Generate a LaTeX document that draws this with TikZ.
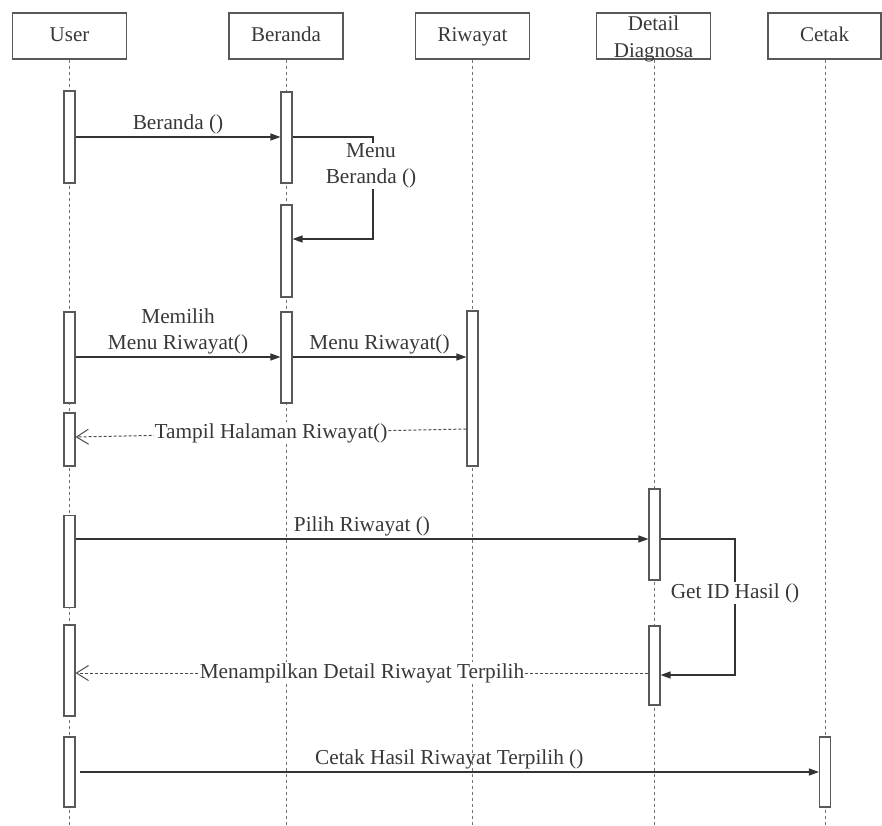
\documentclass[tikz,border=0pt]{standalone}
\usepackage{fontspec}
\setmainfont{Liberation Serif}
\newfontfamily\diagfont{Liberation Serif}
\usetikzlibrary{arrows.meta}
\begin{document}
\begin{tikzpicture}[x=1pt,y=-1pt,
  every node/.style={font=\diagfont\fontsize{21.3}{26}\selectfont, text=black!78},
  header/.style={draw=black!65, line width=1.1pt, fill=white, minimum width=114pt,
                 minimum height=46pt, inner sep=0pt, align=center, text height=14pt, text depth=4pt,
                 font=\diagfont\fontsize{21}{27}\selectfont},
  lifeline/.style={draw=black!55, line width=0.9pt, dash pattern=on 3pt off 3pt},
  actbar/.style={draw=black!65, line width=1.1pt, fill=white, minimum width=11pt, inner sep=0pt},
  msg/.style={draw=black!80, line width=1.2pt, -{Triangle[length=10pt,width=7pt]}},
  selfmsg/.style={draw=black!80, line width=1.2pt, -{Triangle[length=10pt,width=7pt]}},
  reply/.style={draw=black!70, line width=1pt, dash pattern=on 3pt off 2pt,
                -{Straight Barb[length=12pt,width=15pt,line width=1pt]}},
  lbl/.style={inner sep=2pt},
  onlbl/.style={fill=white, inner sep=1pt}
]
\fill[white] (0,0) rectangle (882,825);
\useasboundingbox (0,0) rectangle (882,825);

% lifeline heads
\node[header] (hU) at (69.5,36) {User};
\node[header] (hB) at (286,36) {Beranda};
\node[header] (hR) at (472.5,36) {Riwayat};
\node[header] (hD) at (653.5,36) {};
\node[align=center, font=\diagfont\fontsize{21}{27}\selectfont] (tD) at (653.5,38.5) {Detail\\Diagnosa};
\node[header, minimum width=113pt] (hC) at (824.5,36) {Cetak};

% lifeline bottoms
\coordinate (eU) at (69.5,825);
\coordinate (eB) at (286.5,825);
\coordinate (eR) at (472.5,825);
\coordinate (eD) at (654.5,825);
\coordinate (eC) at (825,825);

\draw[lifeline] (hU.south -| eU) -- (eU);
\draw[lifeline] (hB.south -| eB) -- (eB);
\draw[lifeline] (hR.south -| eR) -- (eR);
\draw[lifeline] (hD.south -| eD) -- (eD);
\draw[lifeline] (hC.south -| eC) -- (eC);

% activation bars
\node[actbar, minimum height=92pt] (u1) at (69.5,137) {};
\node[actbar, minimum height=91pt] (u2) at (69.5,357.5) {};
\node[actbar, minimum height=53pt] (u3) at (69.5,439.5) {};
\node[actbar, minimum height=92pt] (u4) at (69.5,561.5) {};
\node[actbar, minimum height=91pt] (u5) at (69.5,670.5) {};
\node[actbar, minimum height=70pt] (u6) at (69.5,772) {};

\node[actbar, minimum height=91pt] (b1) at (286.5,137.5) {};
\node[actbar, minimum height=92pt] (b2) at (286.5,251) {};
\node[actbar, minimum height=91pt] (b3) at (286.5,357.5) {};

\node[actbar, minimum height=155pt] (r1) at (472.5,388.5) {};

\node[actbar, minimum height=91pt] (d1) at (654.5,534.5) {};
\node[actbar, minimum height=79pt] (d2) at (654.5,665.5) {};

\node[actbar, minimum height=70pt] (c1) at (825,772) {};

% Beranda ()
\draw[msg] (u1.east |- 0,137) -- node[lbl, above] {Beranda ()} (b1.west |- 0,137);

% Menu Beranda () : self call
\coordinate (sb) at (373,137);
\draw[selfmsg] (b1.east |- sb) -- (sb) -- (sb |- 0,239) -- (b2.east |- 0,239);
\node[onlbl, align=center] (lmb) at (371,166) {Menu\\Beranda ()};

% Memilih Menu Riwayat()
\draw[msg] (u2.east |- 0,357) -- node[lbl, above, align=center] {Memilih\\Menu Riwayat()} (b3.west |- 0,357);

% Menu Riwayat()
\draw[msg] (b3.east |- 0,357) -- node[lbl, above] {Menu Riwayat()} (r1.west |- 0,357);

% Tampil Halaman Riwayat()
\draw[reply] (r1.west |- 0,429) -- node[onlbl] {Tampil Halaman Riwayat()} (u3.east |- 0,437);

% Pilih Riwayat ()
\draw[msg] (u4.east |- 0,539) -- node[lbl, above] {Pilih Riwayat ()} (d1.west |- 0,539);

% Get ID Hasil () : self call
\coordinate (sd) at (735,539);
\draw[selfmsg] (d1.east |- sd) -- (sd) -- (sd |- 0,675) -- (d2.east |- 0,675);
\node[onlbl] (lgid) at (735,593) {Get ID Hasil ()};

% Menampilkan Detail Riwayat Terpilih
\draw[reply] (d2.west |- 0,673) -- node[onlbl] {Menampilkan Detail Riwayat Terpilih} (u5.east |- 0,673);

% Cetak Hasil Riwayat Terpilih ()
\draw[msg] ([xshift=4pt]u6.east |- 0,772) -- node[lbl, above] {Cetak Hasil Riwayat Terpilih ()} (c1.west |- 0,772);

\end{tikzpicture}
\end{document}
